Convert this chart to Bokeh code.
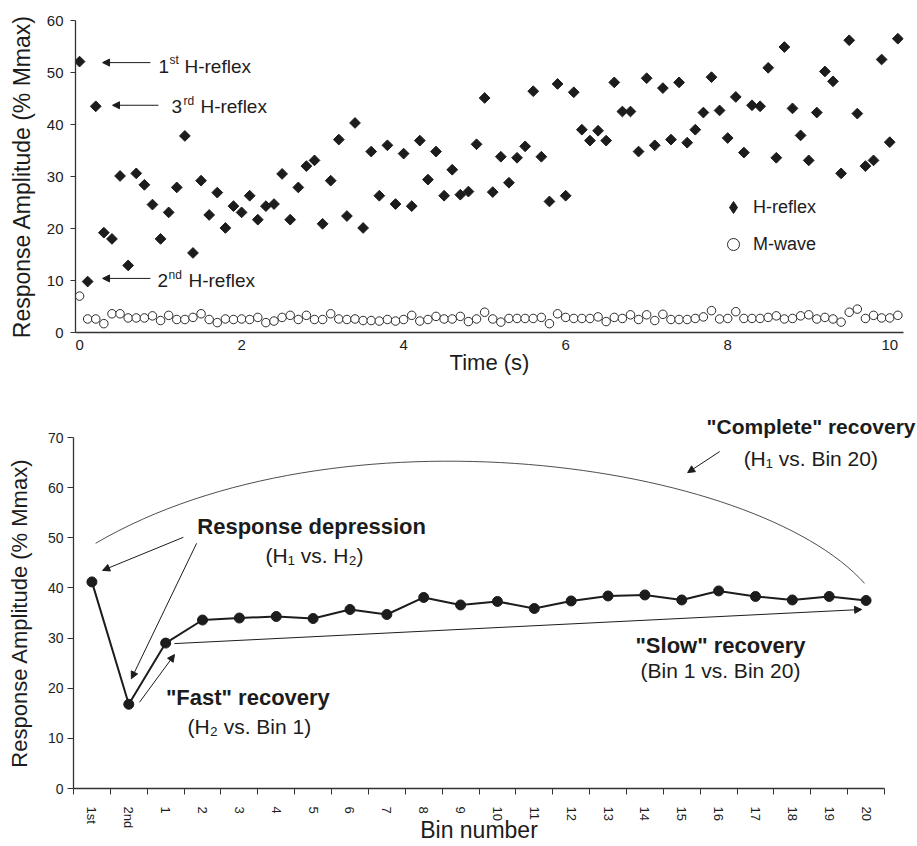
import numpy as np
from bokeh.plotting import figure
from bokeh.models import (Range1d, FixedTicker, Legend, LegendItem, Label,
                          Arrow, NormalHead, Title)
from bokeh.embed import file_html
from bokeh.resources import INLINE

# ---------------- data ----------------
time_s = [round(i * 0.1, 1) for i in range(102)]

h_reflex = [
    52.1, 9.8, 43.5, 19.2, 18.0, 30.1, 12.9, 30.6, 28.4, 24.6,
    18.0, 23.1, 27.9, 37.8, 15.3, 29.2, 22.6, 26.9, 20.1, 24.3,
    23.1, 26.3, 21.7, 24.3, 24.7, 30.5, 21.7, 27.9, 32.0, 33.1,
    20.9, 29.2, 37.1, 22.4, 40.3, 20.1, 34.8, 26.3, 36.0, 24.7,
    34.4, 24.3, 36.9, 29.4, 34.8, 26.3, 31.3, 26.5, 27.1, 36.2,
    45.1, 27.0, 33.8, 28.8, 33.6, 35.8, 46.4, 33.8, 25.2, 47.8,
    26.3, 46.2, 39.0, 36.9, 38.8, 36.9, 48.1, 42.5, 42.5, 34.8,
    48.9, 36.0, 47.0, 37.1, 48.1, 36.5, 39.0, 42.3, 49.1, 42.7,
    37.4, 45.3, 34.6, 43.7, 43.5, 50.9, 33.6, 54.9, 43.1, 37.9,
    33.1, 42.3, 50.2, 48.3, 30.6, 56.2, 42.1, 32.0, 33.1, 52.5,
    36.6, 56.5,
]

m_wave = [
    7.0, 2.6, 2.6, 1.7, 3.6, 3.6, 2.8, 2.8, 2.8, 3.2,
    2.3, 3.3, 2.5, 2.5, 2.9, 3.6, 2.5, 1.9, 2.6, 2.5,
    2.6, 2.5, 2.9, 1.9, 2.2, 2.9, 3.3, 2.5, 3.3, 2.5,
    2.5, 3.6, 2.6, 2.5, 2.6, 2.3, 2.3, 2.2, 2.5, 2.2,
    2.5, 3.3, 2.2, 2.5, 3.1, 2.6, 2.6, 3.1, 2.1, 2.6,
    3.9, 2.6, 2.0, 2.7, 2.7, 2.7, 2.7, 2.9, 1.7, 3.6,
    2.9, 2.7, 2.7, 2.7, 3.0, 2.1, 2.9, 2.7, 3.4, 2.5,
    3.4, 2.3, 3.5, 2.5, 2.5, 2.5, 2.7, 3.0, 4.2, 2.6,
    2.7, 4.0, 2.7, 2.7, 2.7, 2.9, 3.2, 2.6, 2.7, 3.2,
    3.4, 2.6, 2.9, 2.6, 2.0, 3.9, 4.5, 2.7, 3.3, 2.8,
    2.8, 3.3,
]

bin_labels = ["1st", "2nd"] + [str(i) for i in range(1, 21)]
bin_values = [41.2, 16.8, 29.0, 33.6, 34.0, 34.3, 33.9, 35.7, 34.7, 38.1,
              36.6, 37.3, 35.9, 37.4, 38.4, 38.6, 37.6, 39.4, 38.3, 37.6,
              38.3, 37.5]

top_x_ticks = [0, 2, 4, 6, 8, 10]
top_y_ticks = [0, 10, 20, 30, 40, 50, 60]
bottom_y_ticks = [0, 10, 20, 30, 40, 50, 60, 70]

FONT = "Liberation Sans"
INK = "#1c1c1c"
AXIS = "#333333"


def style_axes(p):
    p.grid.visible = False
    p.outline_line_color = None
    p.background_fill_color = "white"
    p.border_fill_color = "white"
    for ax in p.axis:
        ax.axis_line_color = AXIS
        ax.axis_line_width = 1.3
        ax.major_tick_line_color = AXIS
        ax.minor_tick_line_color = AXIS
        ax.major_tick_in = 0
        ax.minor_tick_in = 0
        ax.minor_tick_out = 0
        ax.major_label_text_font = FONT
        ax.major_label_text_color = INK
        ax.axis_label_text_font = FONT
        ax.axis_label_text_color = INK
        ax.axis_label_text_font_style = "normal"


def arrow(p, xs, ys, xe, ye):
    p.add_layout(Arrow(end=NormalHead(size=7, fill_color=INK, line_color=INK,
                                      line_width=1),
                       x_start=xs, y_start=ys, x_end=xe, y_end=ye,
                       line_color=INK, line_width=1))


def label(p, x, y, text, size, x_offset=0, y_offset=0, bold=False,
          align="left"):
    p.add_layout(Label(x=x, y=y, x_offset=x_offset, y_offset=y_offset,
                       text=text, text_font=FONT, text_font_size=size,
                       text_color=INK, text_align=align,
                       text_baseline="middle",
                       text_font_style="bold" if bold else "normal"))


# ---------------- top chart ----------------
p1 = figure(width=917, height=378, x_range=Range1d(-0.05, 10.17),
            y_range=Range1d(0, 60), output_backend="svg",
            toolbar_location=None, min_border_left=75, min_border_right=14,
            min_border_top=20, min_border_bottom=46)
style_axes(p1)

h = p1.scatter(time_s, h_reflex, marker="square", size=7.6, angle=np.pi / 4,
               fill_color=INK, line_color=INK)
m = p1.scatter(time_s, m_wave, marker="circle", size=8.5, fill_color="white",
               line_color="#2a2a2a", line_width=1)
# legend swatch for the diamonds (a single undefined point, shown only in the legend)
h_key = p1.scatter(x=[np.nan], y=[np.nan], marker="diamond", fill_color=INK,
                   line_color=INK)

p1.xaxis.ticker = FixedTicker(ticks=top_x_ticks)
p1.xaxis.major_tick_out = 0
p1.xaxis.major_label_text_font_size = "15px"
p1.xaxis.major_label_standoff = 7
p1.xaxis.axis_label = "Time (s)"
p1.xaxis.axis_label_text_font_size = "22px"
p1.xaxis.axis_label_standoff = -3

p1.yaxis.ticker = FixedTicker(ticks=top_y_ticks)
p1.yaxis.major_tick_out = 5
p1.yaxis.major_label_text_font_size = "15px"
p1.yaxis.major_label_standoff = 7
p1.yaxis.axis_label = "Response Amplitude (% Mmax)"
p1.yaxis.axis_label_text_font_size = "23px"
p1.yaxis.axis_label_standoff = 9

legend = Legend(items=[LegendItem(label="H-reflex", renderers=[h_key]),
                       LegendItem(label="M-wave", renderers=[m])],
                location=(643, 73), border_line_color=None,
                background_fill_alpha=0, label_text_font=FONT,
                label_text_font_size="18px", label_text_color=INK,
                glyph_width=30, glyph_height=30, label_height=20,
                spacing=7, label_standoff=5, padding=10, margin=0)
p1.add_layout(legend)

arrow(p1, 0.875, 51.9, 0.284, 51.9)
arrow(p1, 0.974, 43.7, 0.407, 43.7)
arrow(p1, 0.875, 10.4, 0.284, 10.4)

for (x, y, num, sup, sx, hx) in [(0.974, 51.25, "1", "st", 11, 26),
                                  (1.134, 43.45, "3", "rd", 12, 29),
                                  (0.962, 10.0, "2", "nd", 11, 31)]:
    label(p1, x, y, num, "19px")
    label(p1, x, y, sup, "12px", x_offset=sx, y_offset=6)
    label(p1, x, y, "H-reflex", "19px", x_offset=hx)

# ---------------- bottom chart ----------------
bin_x = [i + 0.5 for i in range(len(bin_labels))]
bin_edges = list(range(len(bin_labels) + 1))

p2 = figure(width=917, height=468, x_range=Range1d(0, len(bin_labels)),
            y_range=Range1d(0, 70), output_backend="svg",
            toolbar_location=None, min_border_left=73, min_border_right=33,
            min_border_top=59, min_border_bottom=58)
style_axes(p2)

p2.title = Title(text="\"Complete\" recovery", align="right", offset=-31,
                 standoff=0, text_font=FONT, text_font_size="21px",
                 text_font_style="bold", text_color=INK)

p2.bezier(x0=[0.6], y0=[48.9], x1=[21.46], y1=[40.9], cx0=[7.1], cy0=[76.9],
          cx1=[18.46], cy1=[65.5], line_color="#3a3a3a", line_width=0.9)

p2.line(bin_x, bin_values, line_color=INK, line_width=2)
p2.scatter(bin_x, bin_values, marker="circle", size=10, fill_color=INK,
           line_color=INK)

p2.xaxis.ticker = FixedTicker(ticks=bin_x, minor_ticks=bin_edges)
p2.xaxis.major_label_overrides = {bx: lab for bx, lab in zip(bin_x, bin_labels)}
p2.xaxis.major_tick_out = 0
p2.xaxis.minor_tick_out = 6
p2.xaxis.major_label_orientation = "vertical"
p2.xaxis.major_label_text_font_size = "13px"
p2.xaxis.major_label_standoff = 12
p2.xaxis.axis_label = "Bin number"
p2.xaxis.axis_label_text_font_size = "23px"
p2.xaxis.axis_label_standoff = -14

p2.yaxis.ticker = FixedTicker(ticks=bottom_y_ticks)
p2.yaxis.major_tick_out = 6
p2.yaxis.major_label_text_font_size = "14px"
p2.yaxis.major_label_standoff = 4
p2.yaxis.axis_label = "Response Amplitude (% Mmax)"
p2.yaxis.axis_label_text_font_size = "22px"
p2.yaxis.axis_label_standoff = 13

arrow(p2, 2.98, 50.1, 0.79, 43.5)
arrow(p2, 3.34, 48.9, 1.57, 21.9)
arrow(p2, 1.79, 17.2, 2.74, 26.7)
arrow(p2, 2.74, 28.9, 21.38, 35.7)
arrow(p2, 17.53, 67.2, 16.66, 63.0)

label(p2, 6.46, 52.3, "Response depression", "22px", bold=True, align="center")
label(p2, 6.54, 46.5, "(H\u2081 vs. H\u2082)", "21px", align="center")
label(p2, 4.73, 18.1, "\"Fast\" recovery", "22px", bold=True, align="center")
label(p2, 4.77, 12.4, "(H\u2082 vs. Bin 1)", "21px", align="center")
label(p2, 20.0, 65.9, "(H\u2081 vs. Bin 20)", "21px", align="center")
label(p2, 17.55, 28.5, "\"Slow\" recovery", "22px", bold=True, align="center")
label(p2, 17.55, 23.5, "(Bin 1 vs. Bin 20)", "21px", align="center")

open("out.html", "w").write(file_html([p1, p2], INLINE))
